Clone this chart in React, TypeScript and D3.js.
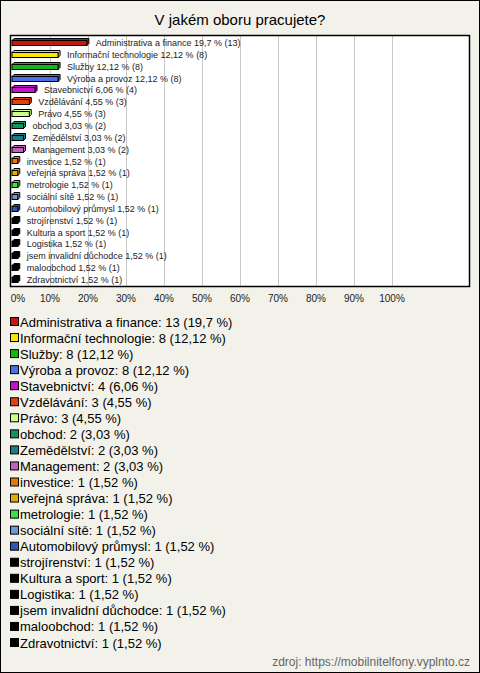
import React, { useEffect } from "react";
import * as d3 from "d3";

const categories = [
  "Administrativa a finance",
  "Informační technologie",
  "Služby",
  "Výroba a provoz",
  "Stavebnictví",
  "Vzdělávání",
  "Právo",
  "obchod",
  "Zemědělství",
  "Management",
  "investice",
  "veřejná správa",
  "metrologie",
  "sociální sítě",
  "Automobilový průmysl",
  "strojírenství",
  "Kultura a sport",
  "Logistika",
  "jsem invalidní důchodce",
  "maloobchod",
  "Zdravotnictví",
];
const counts = [13, 8, 8, 8, 4, 3, 3, 2, 2, 2, 1, 1, 1, 1, 1, 1, 1, 1, 1, 1, 1];
const percents = [19.7, 12.12, 12.12, 12.12, 6.06, 4.55, 4.55, 3.03, 3.03, 3.03, 1.52, 1.52, 1.52, 1.52, 1.52, 1.52, 1.52, 1.52, 1.52, 1.52, 1.52];
const colors = [
  "#c4170d", "#f7e600", "#12b812", "#4a6fe8", "#c414cc", "#e3400f", "#ccff88",
  "#13935f", "#1f7a8a", "#c060c0", "#e5780f", "#e0ae00", "#3fe03f", "#6a98dc",
  "#2f55b8", "#000000", "#000000", "#000000", "#000000", "#000000", "#000000",
];
const tickValues = [0, 10, 20, 30, 40, 50, 60, 70, 80, 90, 100];

const W = 480;
const H = 673;
const fmt = (p: number) => String(p).replace(".", ",");

export default function App() {
  useEffect(() => {
    document.body.style.margin = "0";
  }, []);

  const plotLeft = 10, plotTop = 35, plotRight = 470, plotBottom = 287;
  const x = d3.scaleLinear().domain([0, 100]).range([12, 392]);
  const y = d3.scaleBand<string>().domain(categories).range([plotTop + 1, plotBottom - 1]).paddingInner(0).paddingOuter(0.05);
  const legendY = d3.scalePoint<string>().domain(categories).range([322, 643]);
  const font = "'Liberation Sans', Arial, sans-serif";
  const bh = 5;
  const d = 2;

  return (
    <svg width={W} height={H} style={{ display: "block" }} fontFamily={font}>
      <rect x={0.5} y={0.5} width={W - 1} height={H - 1} fill="#f3f2ea" stroke="#000" />
      <text x={240} y={25} textAnchor="middle" fontSize={15} fill="#000">V jakém oboru pracujete?</text>
      <rect x={plotLeft + 0.5} y={plotTop + 0.5} width={plotRight - plotLeft - 1} height={plotBottom - plotTop - 1} fill="#fff" stroke="none" />
      {tickValues.slice(1).map((t) => (
        <line key={t} x1={Math.round(x(t)) + 0.5} x2={Math.round(x(t)) + 0.5} y1={plotTop} y2={plotBottom} stroke="#c8c8c8" strokeWidth={1} />
      ))}
      <rect x={plotLeft + 0.5} y={plotTop + 0.5} width={plotRight - plotLeft - 1} height={plotBottom - plotTop - 1} fill="none" stroke="#000" strokeWidth={1.5} />
      {categories.map((c, i) => {
        const cy = (y(c) as number) + y.bandwidth() / 2;
        const x0 = x(0);
        const x1 = x(percents[i]);
        const w = Math.max(x1 - x0, 4);
        const top = Math.round(cy - bh / 2) + 0.5;
        return (
          <g key={c}>
            <polygon
              points={`${x0},${top} ${x0 + d},${top - d} ${x0 + w + d},${top - d} ${x0 + w + d},${top + bh - d} ${x0 + w},${top + bh} ${x0 + w},${top}`}
              fill={colors[i]} stroke="#000" strokeWidth={1} strokeLinejoin="round"
            />
            <rect x={x0} y={top} width={w} height={bh} fill={colors[i]} stroke="#000" strokeWidth={1} />
            <text x={x0 + w + 9} y={cy + 3.5} fontSize={9} fill="#222">
              {`${c} ${fmt(percents[i])} % (${counts[i]})`}
            </text>
          </g>
        );
      })}
      {tickValues.map((t) => (
        <text key={t} x={t === 0 ? x(t) + 6 : x(t)} y={302} textAnchor="middle" fontSize={10} fill="#222">{`${t}%`}</text>
      ))}
      {categories.map((c, i) => {
        const ly = legendY(c) as number;
        return (
          <g key={c}>
            <rect x={10.5} y={ly - 4.5} width={8} height={8} fill={colors[i]} stroke="#000" strokeWidth={1} />
            <text x={20} y={ly + 4.5} fontSize={13} fill="#000">{`${c}: ${counts[i]} (${fmt(percents[i])} %)`}</text>
          </g>
        );
      })}
      <text x={470} y={666} textAnchor="end" fontSize={12} fill="#666">zdroj: https://mobilnitelfony.vyplnto.cz</text>
    </svg>
  );
}
